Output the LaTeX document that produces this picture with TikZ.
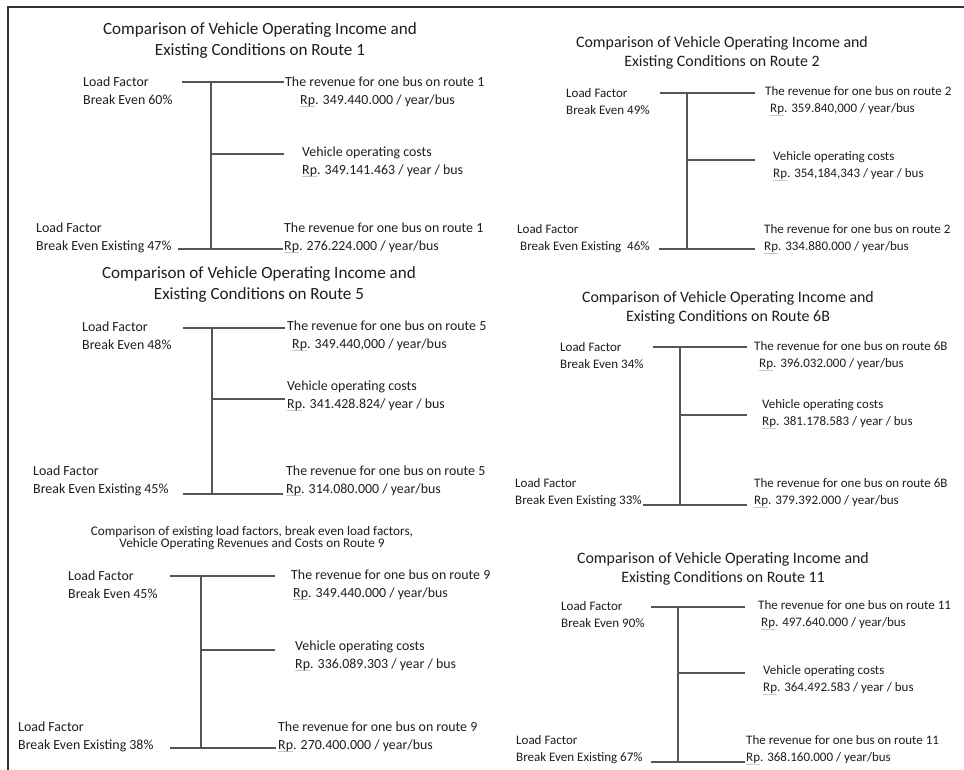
\documentclass[tikz,border=0pt]{standalone}
\usepackage{fontspec}
\setmainfont{Carlito}
\definecolor{txt}{HTML}{1E1E1E}
\definecolor{ln}{HTML}{555555}
\newcommand\Rp{\leavevmode\rlap{\textcolor{gray!45}{\rule[-2.6pt]{1.05em}{0.6pt}}}Rp.}
\tikzset{
  conn/.style={draw=ln, line width=1.2pt},
  frame/.style={draw=black!80, line width=1.3pt},
  lblL/.style={inner sep=0pt, align=left, anchor=west, text=txt, font=\fontsize{13.9}{17.8}\selectfont},
  lblR/.style={inner sep=0pt, align=left, anchor=west, text=txt, font=\fontsize{13}{17}\selectfont},
  ttlL/.style={inner sep=0pt, align=center, text=txt, font=\fontsize{17.1}{21}\selectfont},
  ttlR/.style={inner sep=0pt, align=center, text=txt, font=\fontsize{15.9}{19.5}\selectfont},
  ttlS/.style={inner sep=0pt, align=center, text=txt, font=\fontsize{13.2}{11.3}\selectfont},
}
\begin{document}
\begin{tikzpicture}[x=1pt,y=-1pt]
\useasboundingbox (0,0) rectangle (964,770);
\fill[white] (0,0) rectangle (964,770);
% frame
\coordinate (fb) at (8,770);
\coordinate (fc) at (8,7);
\coordinate (fr) at (964,7);
\draw[frame] (fb) -- (fc) -- (fr);

% ---------- Panel Route 1 ----------
\node[ttlL] (T1) at (260,41) {Comparison of Vehicle Operating Income and\\Existing Conditions on Route 1};
\coordinate (a1) at (182,82); \coordinate (j1) at (211,82); \coordinate (b1) at (284,82);
\coordinate (m1) at (211,154); \coordinate (n1) at (284,154);
\coordinate (c1) at (178,249); \coordinate (k1) at (211,249); \coordinate (d1) at (283,249);
\draw[conn] (a1) -- (b1);
\draw[conn] (j1) -- (k1);
\draw[conn] (m1) -- (n1);
\draw[conn] (c1) -- (d1);
\node[lblL] (L1a) at (83,91) {Load Factor\\Break Even 60\%};
\node[lblL] (R1a) at (285,92) {The revenue for one bus on route 1\\\hspace*{15pt}\Rp{} 349.440.000 / year/bus};
\node[lblL] (V1) at (302,162) {Vehicle operating costs\\\Rp{} 349.141.463 / year / bus};
\node[lblL] (L1b) at (36,238) {Load Factor\\Break Even Existing 47\%};
\node[lblL] (R1b) at (284,238) {The revenue for one bus on route 1\\\Rp{} 276.224.000 / year/bus};

% ---------- Panel Route 2 ----------
\node[ttlR] (T2) at (722,53) {Comparison of Vehicle Operating Income and\\Existing Conditions on Route 2};
\coordinate (a2) at (660,93); \coordinate (j2) at (687,93); \coordinate (b2) at (755,93);
\coordinate (m2) at (687,160); \coordinate (n2) at (755,160);
\coordinate (c2) at (659,249); \coordinate (k2) at (687,249); \coordinate (d2) at (755,249);
\draw[conn] (a2) -- (b2);
\draw[conn] (j2) -- (k2);
\draw[conn] (m2) -- (n2);
\draw[conn] (c2) -- (d2);
\node[lblR] (L2a) at (566,102) {Load Factor\\Break Even 49\%};
\node[lblR] (R2a) at (765,101) {The revenue for one bus on route 2\\\hspace*{5pt}\Rp{} 359.840,000 / year/bus};
\node[lblR] (V2) at (773,166) {Vehicle operating costs\\\Rp{} 354,184,343 / year / bus};
\node[lblR] (L2b) at (517,239) {Load Factor\\\hspace*{3pt}Break Even Existing\ \ 46\%};
\node[lblR] (R2b) at (764,239) {The revenue for one bus on route 2\\\Rp{} 334.880.000 / year/bus};

% ---------- Panel Route 5 ----------
\node[ttlL] (T3) at (259,285) {Comparison of Vehicle Operating Income and\\Existing Conditions on Route 5};
\coordinate (a3) at (183,328); \coordinate (j3) at (212,328); \coordinate (b3) at (285,328);
\coordinate (m3) at (212,399); \coordinate (n3) at (285,399);
\coordinate (c3) at (183,494); \coordinate (k3) at (212,494); \coordinate (d3) at (283,494);
\draw[conn] (a3) -- (b3);
\draw[conn] (j3) -- (k3);
\draw[conn] (m3) -- (n3);
\draw[conn] (c3) -- (d3);
\node[lblL] (L3a) at (82,336) {Load Factor\\Break Even 48\%};
\node[lblL] (R3a) at (287,336) {The revenue for one bus on route 5\\\hspace*{5pt}\Rp{} 349.440,000 / year/bus};
\node[lblL] (V3) at (287,396) {Vehicle operating costs\\\Rp{} 341.428.824/ year / bus};
\node[lblL] (L3b) at (33,481) {Load Factor\\Break Even Existing 45\%};
\node[lblL] (R3b) at (286,481) {The revenue for one bus on route 5\\\Rp{} 314.080.000 / year/bus};

% ---------- Panel Route 6B ----------
\node[ttlR] (T4) at (728,308) {Comparison of Vehicle Operating Income and\\Existing Conditions on Route 6B};
\coordinate (a4) at (653,347); \coordinate (j4) at (680,347); \coordinate (b4) at (747,347);
\coordinate (m4) at (680,415); \coordinate (n4) at (747,415);
\coordinate (c4) at (643,505); \coordinate (k4) at (680,505); \coordinate (d4) at (747,505);
\draw[conn] (a4) -- (b4);
\draw[conn] (j4) -- (k4);
\draw[conn] (m4) -- (n4);
\draw[conn] (c4) -- (d4);
\node[lblR] (L4a) at (560,356) {Load Factor\\Break Even 34\%};
\node[lblR] (R4a) at (754,356) {The revenue for one bus on route 6B\\\hspace*{5pt}\Rp{} 396.032.000 / year/bus};
\node[lblR] (V4) at (762,414) {Vehicle operating costs\\\Rp{} 381.178.583 / year / bus};
\node[lblR] (L4b) at (515,493) {Load Factor\\Break Even Existing 33\%};
\node[lblR] (R4b) at (754,493) {The revenue for one bus on route 6B\\\Rp{} 379.392.000 / year/bus};

% ---------- Panel Route 9 ----------
\node[ttlS] (T5) at (252,538) {Comparison of existing load factors, break even load factors,\\Vehicle Operating Revenues and Costs on Route 9};
\coordinate (a5) at (170,576); \coordinate (j5) at (201,576); \coordinate (b5) at (275,576);
\coordinate (m5) at (201,650); \coordinate (n5) at (275,650);
\coordinate (c5) at (170,748); \coordinate (k5) at (201,748); \coordinate (d5) at (276,748);
\draw[conn] (a5) -- (b5);
\draw[conn] (j5) -- (k5);
\draw[conn] (m5) -- (n5);
\draw[conn] (c5) -- (d5);
\node[lblL] (L5a) at (68,585) {Load Factor\\Break Even 45\%};
\node[lblL] (R5a) at (291,585) {The revenue for one bus on route 9\\\hspace*{2pt}\Rp{} 349.440.000 / year/bus};
\node[lblL] (V5) at (295,656) {Vehicle operating costs\\\Rp{} 336.089.303 / year / bus};
\node[lblL] (L5b) at (18,737) {Load Factor\\Break Even Existing 38\%};
\node[lblL] (R5b) at (278,737) {The revenue for one bus on route 9\\\Rp{} 270.400.000 / year/bus};

% ---------- Panel Route 11 ----------
\node[ttlR] (T6) at (723,569) {Comparison of Vehicle Operating Income and\\Existing Conditions on Route 11};
\coordinate (a6) at (651,607); \coordinate (j6) at (678,607); \coordinate (b6) at (745,607);
\coordinate (m6) at (678,673); \coordinate (n6) at (745,673);
\coordinate (c6) at (651,762); \coordinate (k6) at (678,762); \coordinate (d6) at (745,762);
\draw[conn] (a6) -- (b6);
\draw[conn] (j6) -- (k6);
\draw[conn] (m6) -- (n6);
\draw[conn] (c6) -- (d6);
\node[lblR] (L6a) at (561,615) {Load Factor\\Break Even 90\%};
\node[lblR] (R6a) at (758,615) {The revenue for one bus on route 11\\\hspace*{3pt}\Rp{} 497.640.000 / year/bus};
\node[lblR] (V6) at (763,680) {Vehicle operating costs\\\Rp{} 364.492.583 / year / bus};
\node[lblR] (L6b) at (516,750) {Load Factor\\Break Even Existing 67\%};
\node[lblR] (R6b) at (746,750) {The revenue for one bus on route 11\\\Rp{} 368.160.000 / year/bus};
\end{tikzpicture}
\end{document}
